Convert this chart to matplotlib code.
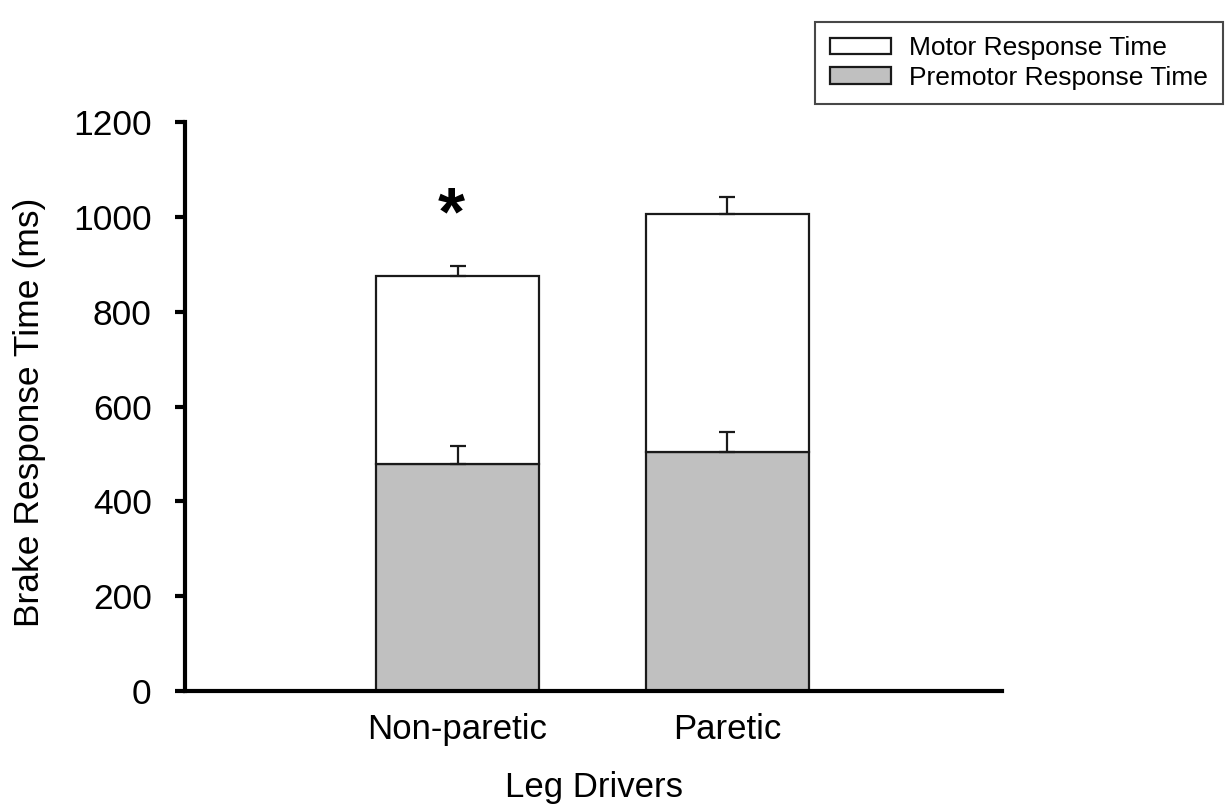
import matplotlib
matplotlib.use("Agg")
import matplotlib.pyplot as plt
import numpy as np

plt.rcParams['font.family'] = ['Liberation Sans', 'DejaVu Sans']

groups = ["Non-paretic", "Paretic"]
premotor = [478, 503]
premotor_err = [39, 43]
total = [876, 1006]
total_err = [21, 35]
motor = [t - p for t, p in zip(total, premotor)]

fig = plt.figure(figsize=(12.25, 8.08), dpi=100)
ax = fig.add_axes([0.151, 0.1448, 0.667, 0.7042])

x = np.arange(len(groups))
width = 0.605
edge = "#1a1a1a"

ax.bar(x, premotor, width, color="#c0c0c0", edgecolor=edge, linewidth=1.6,
       label="Premotor Response Time", zorder=2)
ax.bar(x, motor, width, bottom=premotor, color="white", edgecolor=edge,
       linewidth=1.6, label="Motor Response Time", zorder=2)

# one-sided error bars (upper only)
ax.errorbar(x, premotor, yerr=[np.zeros(2), premotor_err], fmt="none",
            ecolor=edge, elinewidth=1.6, capsize=5.5, capthick=1.6, zorder=3)
ax.errorbar(x, total, yerr=[np.zeros(2), total_err], fmt="none",
            ecolor=edge, elinewidth=1.6, capsize=5.5, capthick=1.6, zorder=3)

# significance marker
ax.text(-0.022, 1000, "*", ha="center", va="center", fontsize=50, fontweight="bold")

ax.set_xlim(-1.011, 2.02)
ax.set_ylim(0, 1200)
ax.set_yticks(range(0, 1201, 200))
ax.set_xticks(x)
ax.set_xticklabels(groups)

for side in ["top", "right"]:
    ax.spines[side].set_visible(False)
ax.spines["left"].set_linewidth(3)
ax.spines["bottom"].set_linewidth(3)
ax.spines["left"].set_bounds(0, 1200)
ax.tick_params(axis="y", direction="out", length=7, width=3, pad=17, labelsize=25.5)
ax.tick_params(axis="x", length=0, pad=16, labelsize=25)

ax.set_xlabel("Leg Drivers", fontsize=25, labelpad=18)
ax.set_ylabel("Brake Response Time (ms)", fontsize=25.5)
ax.yaxis.set_label_coords(-0.170, 0.49)

handles, labels = ax.get_legend_handles_labels()
leg = fig.legend(handles[::-1], labels[::-1], loc="upper right",
                 bbox_to_anchor=(0.998, 0.973), borderaxespad=0, fontsize=19,
                 frameon=True, fancybox=False, edgecolor=edge, handlelength=2.3,
                 handleheight=0.6, labelspacing=0.2, borderpad=0.55,
                 handletextpad=0.7)
leg.get_frame().set_linewidth(1.5)

fig.savefig("out.png", dpi=100)
